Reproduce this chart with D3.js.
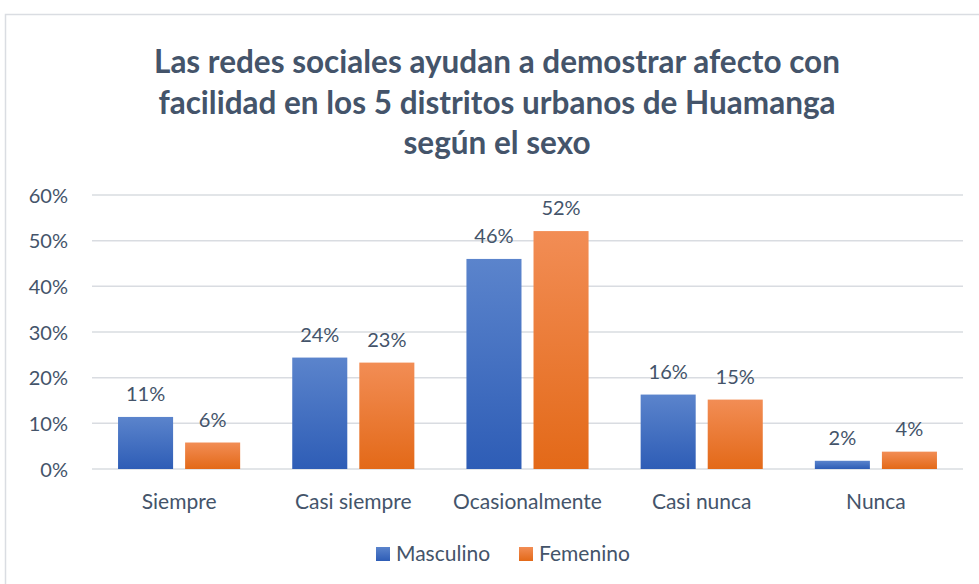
<!DOCTYPE html>
<html><head><meta charset="utf-8">
<script src="https://cdn.jsdelivr.net/npm/d3@7"></script>
<style>body{margin:0;background:#fff}svg{display:block}</style>
</head><body>
<svg id="c" width="979" height="584"></svg>
<script>
const categories = ["Siempre","Casi siempre","Ocasionalmente","Casi nunca","Nunca"];
const seriesNames = ["Masculino","Femenino"];
const masculino = [11.4, 24.4, 46.0, 16.3, 1.8];
const femenino = [5.8, 23.3, 52.1, 15.2, 3.8];
const valueLabels = [["11%","24%","46%","16%","2%"],["6%","23%","52%","15%","4%"]];
const yTicks = [0,10,20,30,40,50,60];
const titleLines = ["Las redes sociales ayudan a demostrar afecto con","facilidad en los 5 distritos urbanos de Huamanga","según el sexo"];

(function(){
const svg = d3.select("#c");
const font = "Lato, 'Open Sans', sans-serif";
const textColor = "#44546A";

svg.append("rect").attr("x",5.5).attr("y",14.5).attr("width",1000).attr("height",600)
  .attr("fill","#fff").attr("stroke","#DADDE2").attr("stroke-width",1.5);

const defs = svg.append("defs");
const grads = [["gBlue","#5B84CC","#2E5DB6"],["gOrange","#F28D55","#E36918"]];
grads.forEach(([id,t,b])=>{
  const g = defs.append("linearGradient").attr("id",id).attr("x1",0).attr("y1",0).attr("x2",0).attr("y2",1);
  g.append("stop").attr("offset","0%").attr("stop-color",t);
  g.append("stop").attr("offset","100%").attr("stop-color",b);
});

const pL = 92, pR = 963, pT = 195, pB = 469;
const y = d3.scaleLinear().domain([0,60]).range([pB, pT]);
const x0 = d3.scaleBand().domain(categories).range([pL, pR]).paddingInner(0).paddingOuter(0);
const step = x0.bandwidth();
const barW = step*0.316, gap = step*0.069;

svg.append("g").selectAll("text").data(titleLines).join("text")
  .attr("x",497).attr("y",(d,i)=>73+i*40.5)
  .attr("text-anchor","middle").attr("font-family",font).attr("font-weight","bold")
  .attr("font-size",31.5).attr("fill",textColor).text(d=>d);

svg.append("g").selectAll("line").data(yTicks).join("line")
  .attr("x1",pL).attr("x2",pR).attr("y1",d=>y(d)).attr("y2",d=>y(d))
  .attr("stroke","#D9DCE1").attr("stroke-width",1.5);

const yAxis = d3.axisLeft(y).tickValues(yTicks).tickFormat(d=>d+"%").tickSize(0).tickPadding(0);
const ya = svg.append("g").attr("transform","translate(68,0)").call(yAxis);
ya.select(".domain").remove();
ya.selectAll("text").attr("font-family",font).attr("font-size",20).attr("fill",textColor).attr("dy","0.35em");

const series = [masculino, femenino];
const fills = ["url(#gBlue)","url(#gOrange)"];
series.forEach((vals,s)=>{
  const g = svg.append("g");
  const bx = (c)=> x0(c) + step/2 + (s===0 ? -gap/2 - barW : gap/2);
  g.selectAll("rect").data(vals).join("rect")
    .attr("x",(d,i)=>bx(categories[i])).attr("width",barW)
    .attr("y",d=>y(d)).attr("height",d=>y(0)-y(d)).attr("fill",fills[s]);
  g.selectAll("text").data(vals).join("text")
    .attr("x",(d,i)=>bx(categories[i])+barW/2).attr("y",d=>y(d)-16)
    .attr("text-anchor","middle").attr("font-family",font).attr("font-size",20)
    .attr("fill",textColor).text((d,i)=>valueLabels[s][i]);
});

const xAxis = d3.axisBottom(x0).tickSize(0).tickPadding(0);
const xa = svg.append("g").attr("transform","translate(0,494)").call(xAxis);
xa.select(".domain").remove();
xa.selectAll("text").attr("font-family",font).attr("font-size",21).attr("fill",textColor).attr("dy","0.71em");

const legX = [376, 519];
const lg = svg.append("g");
seriesNames.forEach((n,i)=>{
  lg.append("rect").attr("x",legX[i]).attr("y",547).attr("width",14).attr("height",14).attr("fill",fills[i]);
  lg.append("text").attr("x",legX[i]+20).attr("y",561).attr("font-family",font).attr("font-size",21)
    .attr("fill",textColor).text(n);
});
})();
</script>
</body></html>
